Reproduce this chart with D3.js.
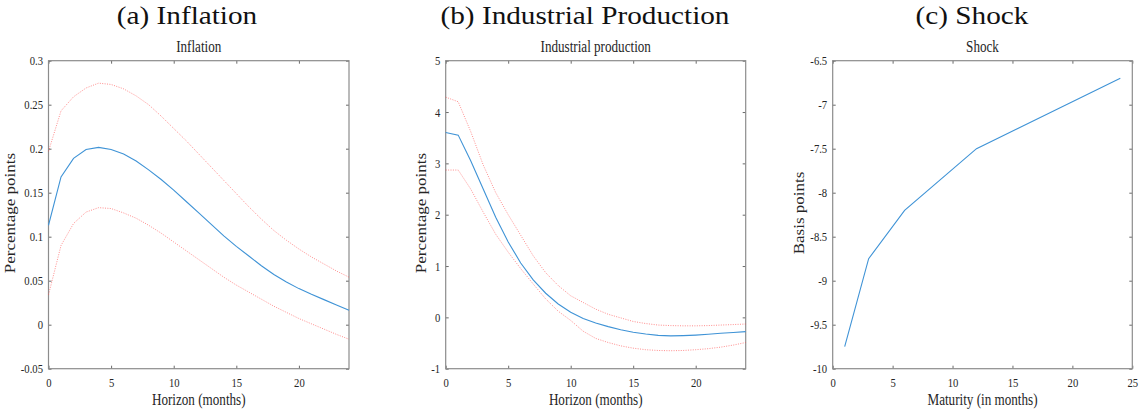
<!DOCTYPE html>
<html>
<head>
<meta charset="utf-8">
<script src="https://cdn.jsdelivr.net/npm/d3@7"></script>
<style>
  body { margin: 0; background: #fff; }
  svg { display: block; }
</style>
</head>
<body>
<svg id="fig" width="1140" height="412"></svg>
<script>
// horizon in months (panels a and b)
const horizon = [0, 1, 2, 3, 4, 5, 6, 7, 8, 9, 10, 11, 12, 13, 14, 15, 16, 17, 18, 19, 20, 21, 22, 23, 24]

// (a) inflation response, percentage points
const inflMid = [0.113, 0.168, 0.189, 0.199, 0.2015, 0.199, 0.194, 0.186, 0.176, 0.165, 0.153, 0.14, 0.127, 0.114, 0.101, 0.089, 0.078, 0.067, 0.057, 0.0485, 0.041, 0.0345, 0.0285, 0.0225, 0.0165]
const inflHi = [0.197, 0.243, 0.259, 0.269, 0.2745, 0.273, 0.268, 0.26, 0.25, 0.237, 0.223, 0.209, 0.194, 0.179, 0.164, 0.149, 0.134, 0.12, 0.107, 0.096, 0.086, 0.077, 0.069, 0.061, 0.054]
const inflLo = [0.034, 0.09, 0.115, 0.128, 0.133, 0.132, 0.127, 0.121, 0.113, 0.104, 0.094, 0.084, 0.074, 0.064, 0.054, 0.045, 0.037, 0.029, 0.021, 0.014, 0.007, 0.001, -0.005, -0.011, -0.0165]

// (b) industrial production response, percentage points
const ipMid = [3.6, 3.55, 3.05, 2.5, 1.95, 1.47, 1.06, 0.73, 0.47, 0.26, 0.1, -0.02, -0.11, -0.18, -0.24, -0.29, -0.325, -0.35, -0.36, -0.355, -0.345, -0.33, -0.31, -0.295, -0.278]
const ipHi = [4.29, 4.2, 3.62, 2.97, 2.43, 2.0, 1.6, 1.2, 0.87, 0.62, 0.42, 0.29, 0.16, 0.06, -0.01, -0.08, -0.12, -0.15, -0.16, -0.165, -0.165, -0.16, -0.15, -0.14, -0.13]
const ipLo = [2.87, 2.87, 2.5, 2.05, 1.62, 1.27, 0.95, 0.65, 0.36, 0.12, -0.06, -0.27, -0.41, -0.49, -0.555, -0.6, -0.63, -0.645, -0.65, -0.645, -0.63, -0.61, -0.58, -0.54, -0.49]

// (c) shock by maturity, basis points
const maturities = [1, 3, 6, 12, 24]
const shockBp = [-9.75, -8.75, -8.2, -7.5, -6.7]

// tick values
const monthTicks = [0, 5, 10, 15, 20]
const maturityTicks = [0, 5, 10, 15, 20, 25]
const inflTicks = [-0.05, 0, 0.05, 0.1, 0.15, 0.2, 0.25, 0.3]
const ipTicks = [-1, 0, 1, 2, 3, 4, 5]
const shockTicks = [-10, -9.5, -9, -8.5, -8, -7.5, -7, -6.5]

const svg = d3.select("#fig")
const plotTop = 60.7, plotBottom = 368.7
const sx = 0.82 // horizontally squeezed text, as in the exported figure
const serif = "'Liberation Serif', Tinos, serif"
const fmt = (d) => String(+d.toFixed(2))

const panels = [
  {
    caption: "(a) Inflation", captionX: 187, title: "Inflation", ylabel: "Percentage points", ylabelX: 15,
    xlabel: "Horizon (months)", left: 48.5, right: 349, xDomain: [0, 24], yDomain: [-0.05, 0.3],
    xTicks: monthTicks, yTicks: inflTicks,
    series: [{ x: horizon, y: inflHi, band: true }, { x: horizon, y: inflLo, band: true }, { x: horizon, y: inflMid }]
  },
  {
    caption: "(b) Industrial Production", captionX: 585, title: "Industrial production", ylabel: "Percentage points", ylabelX: 425.7,
    xlabel: "Horizon (months)", left: 445.7, right: 745.7, xDomain: [0, 24], yDomain: [-1, 5],
    xTicks: monthTicks, yTicks: ipTicks,
    series: [{ x: horizon, y: ipHi, band: true }, { x: horizon, y: ipLo, band: true }, { x: horizon, y: ipMid }]
  },
  {
    caption: "(c) Shock", captionX: 972, title: "Shock", ylabel: "Basis points", ylabelX: 804.3,
    xlabel: "Maturity (in months)", left: 832.7, right: 1132.3, xDomain: [0, 25], yDomain: [-10, -6.5],
    xTicks: maturityTicks, yTicks: shockTicks,
    series: [{ x: maturities, y: shockBp }]
  }
]

for (let p of panels) {
  const x = d3.scaleLinear().domain(p.xDomain).range([p.left, p.right])
  const y = d3.scaleLinear().domain(p.yDomain).range([plotBottom, plotTop])
  const g = svg.append("g")
  const cx = (p.left + p.right) / 2

  // subfigure caption
  g.append("text").attr("transform", `translate(${p.captionX},24) scale(1.17,1)`)
    .attr("text-anchor", "middle").attr("font-size", 25).attr("fill", "#111").style("font-family", serif).text(p.caption)

  // axes title
  g.append("text").attr("transform", `translate(${cx},52) scale(${sx},1)`)
    .attr("text-anchor", "middle").attr("font-size", 16).attr("fill", "#262626").style("font-family", serif).text(p.title)

  // inward ticks on all four sides
  const bx = g.append("g").attr("transform", `translate(0,${plotBottom})`)
    .call(d3.axisBottom(x).tickValues(p.xTicks).tickSize(-3).tickSizeOuter(0).tickPadding(9.4).tickFormat(fmt))
  const lx = g.append("g").attr("transform", `translate(${p.left},0)`)
    .call(d3.axisLeft(y).tickValues(p.yTicks).tickSize(-3).tickSizeOuter(0).tickPadding(5.5).tickFormat(fmt))
  g.append("g").attr("transform", `translate(0,${plotTop})`)
    .call(d3.axisTop(x).tickValues(p.xTicks).tickSize(-3).tickSizeOuter(0).tickFormat(""))
  g.append("g").attr("transform", `translate(${p.right},0)`)
    .call(d3.axisRight(y).tickValues(p.yTicks).tickSize(-3).tickSizeOuter(0).tickFormat(""))

  g.selectAll(".domain").remove()
  g.selectAll(".tick line").attr("stroke", "#444").attr("stroke-width", 0.8)
  bx.selectAll("text").attr("font-size", 13).attr("fill", "#262626").style("font-family", serif)
    .attr("transform", `scale(${sx},1)`)
  lx.selectAll("text").attr("font-size", 13).attr("fill", "#262626").style("font-family", serif)
    .attr("x", -5.5 / sx).attr("transform", `scale(${sx},1)`)

  // plot box
  g.append("rect").attr("x", p.left).attr("y", plotTop).attr("width", p.right - p.left).attr("height", plotBottom - plotTop)
    .attr("fill", "none").attr("stroke", "#8c8c8c").attr("stroke-width", 1.2)

  // lines
  for (let s of p.series) {
    const pts = s.x.map((v, i) => [v, s.y[i]])
    const line = d3.line().x((d) => x(d[0])).y((d) => y(d[1]))
    g.append("path").datum(pts).attr("d", line).attr("fill", "none")
      .attr("stroke", s.band ? "#ff4a4a" : "#3f93d6")
      .attr("stroke-width", s.band ? 0.9 : 1.1)
      .attr("stroke-dasharray", s.band ? "1,1.4" : null)
      .attr("opacity", s.band ? 0.7 : 1)
  }

  // axis labels
  g.append("text").attr("transform", `translate(${cx},405) scale(${sx},1)`)
    .attr("text-anchor", "middle").attr("font-size", 16).attr("fill", "#262626").style("font-family", serif).text(p.xlabel)
  g.append("text").attr("transform", `translate(${p.ylabelX},213) rotate(-90) scale(1,${sx})`)
    .attr("text-anchor", "middle").attr("font-size", 17).attr("fill", "#262626").style("font-family", serif).text(p.ylabel)
}
</script>
</body>
</html>
